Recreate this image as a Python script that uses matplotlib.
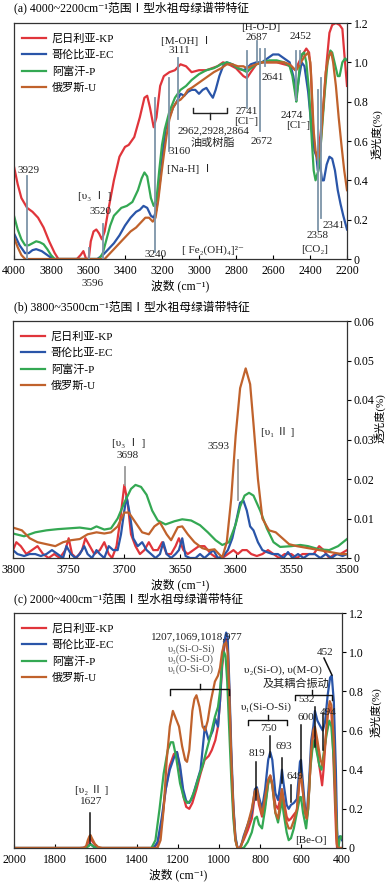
import numpy as np
import matplotlib
matplotlib.use("Agg")
import matplotlib.pyplot as plt
from matplotlib.ticker import FixedLocator, FuncFormatter

plt.rcParams['font.family'] = ['Liberation Serif', 'Noto Sans CJK SC', 'DejaVu Serif']
plt.rcParams['axes.linewidth'] = 0.9

series = ["尼日利亚-KP", "哥伦比亚-EC", "阿富汗-P", "俄罗斯-U"]
colores = ["#e0353b", "#2a55a8", "#34a853", "#c0622c"]

# ---------------- (a) 4000~2200 ----------------
a_kp_x = [4000, 3980, 3960, 3929, 3900, 3870, 3840, 3810, 3780, 3760, 3660, 3640, 3625, 3610, 3596, 3585, 3570,
          3555, 3540, 3525, 3510, 3490, 3460, 3430, 3400, 3380, 3350, 3320, 3295, 3280, 3265, 3245, 3230, 3210,
          3190, 3160, 3130, 3100, 3070, 3040, 3000, 2960, 2930, 2900, 2870, 2840, 2800, 2760, 2741, 2720, 2690,
          2660, 2620, 2580, 2540, 2500, 2480, 2460, 2440, 2420, 2405, 2395, 2385, 2375, 2360, 2345, 2330, 2310,
          2295, 2280, 2260, 2240, 2225, 2215, 2200]
a_kp_y = [0.47, 0.38, 0.31, 0.26, 0.24, 0.21, 0.16, 0.09, 0.03, 0.0, 0.0, 0.02, 0.04, 0.0, 0.0, 0.09, 0.14,
          0.15, 0.13, 0.10, 0.14, 0.25, 0.40, 0.52, 0.57, 0.58, 0.62, 0.72, 0.82, 0.83, 0.77, 0.67, 0.72, 0.88,
          0.93, 0.95, 0.96, 0.99, 0.98, 0.95, 0.96, 0.96, 0.97, 0.98, 1.00, 0.99, 0.97, 0.93, 0.92, 0.95, 0.99,
          1.00, 1.00, 1.00, 0.99, 0.98, 0.96, 1.00, 1.04, 1.07, 1.05, 0.95, 0.70, 0.55, 0.52, 0.62, 0.75, 1.00,
          1.15, 1.19, 1.20, 1.19, 1.17, 1.05, 0.88]
a_ec_x = [4000, 3970, 3940, 3920, 3900, 3880, 3850, 3820, 3790, 3550, 3520, 3490, 3460, 3430, 3400, 3370, 3340,
          3320, 3300, 3280, 3260, 3245, 3230, 3210, 3195, 3180, 3160, 3140, 3120, 3100, 3080, 3060, 3040, 3020,
          3000, 2980, 2960, 2940, 2925, 2910, 2890, 2870, 2850, 2820, 2790, 2760, 2741, 2720, 2690, 2660, 2630,
          2600, 2570, 2540, 2510, 2490, 2474, 2460, 2445, 2430, 2410, 2390, 2375, 2365, 2358, 2348, 2335, 2325,
          2310, 2295, 2280, 2265, 2250, 2235, 2220, 2200]
a_ec_y = [0.13, 0.07, 0.03, 0.03, 0.045, 0.05, 0.04, 0.02, 0.0, 0.0, 0.02, 0.05, 0.08, 0.12, 0.17, 0.21, 0.24,
          0.25, 0.27, 0.26, 0.22, 0.21, 0.25, 0.40, 0.55, 0.66, 0.72, 0.77, 0.80, 0.84, 0.83, 0.85, 0.86, 0.86,
          0.84, 0.86, 0.87, 0.84, 0.82, 0.86, 0.93, 0.98, 1.00, 0.99, 0.97, 0.96, 0.97, 0.99, 1.00, 1.00, 1.02,
          1.04, 1.04, 1.02, 1.00, 0.93, 0.82, 0.92, 1.00, 0.98, 0.85, 0.65, 0.55, 0.52, 0.45, 0.50, 0.40, 0.40,
          0.48, 0.52, 0.51, 0.45, 0.35, 0.28, 0.22, 0.15]
a_p_x = [4000, 3980, 3960, 3940, 3920, 3900, 3880, 3860, 3840, 3820, 3800, 3780, 3540, 3520, 3500, 3480, 3460,
         3440, 3420, 3390, 3360, 3330, 3310, 3295, 3280, 3260, 3245, 3230, 3215, 3200, 3185, 3160, 3130, 3100,
         3070, 3040, 3000, 2960, 2920, 2880, 2850, 2820, 2790, 2760, 2741, 2720, 2690, 2660, 2620, 2580, 2540,
         2510, 2495, 2480, 2474, 2465, 2455, 2445, 2432, 2420, 2405, 2390, 2380, 2370, 2355, 2340, 2320, 2305,
         2290, 2280, 2265, 2250, 2240, 2225, 2210, 2200]
a_p_y = [0.22, 0.15, 0.10, 0.07, 0.07, 0.08, 0.09, 0.085, 0.075, 0.05, 0.02, 0.0, 0.0, 0.03, 0.10, 0.17, 0.22,
         0.24, 0.26, 0.27, 0.29, 0.35, 0.41, 0.44, 0.42, 0.31, 0.27, 0.30, 0.45, 0.58, 0.66, 0.75, 0.82, 0.86,
         0.88, 0.91, 0.94, 0.96, 0.97, 0.99, 1.00, 0.99, 0.97, 0.96, 0.95, 0.97, 0.99, 1.00, 1.01, 1.01, 1.00,
         0.98, 0.93, 0.84, 0.80, 0.88, 0.99, 1.04, 1.05, 1.00, 0.85, 0.60, 0.45, 0.40, 0.45, 0.60, 0.85, 1.00,
         1.06, 1.05, 0.99, 0.93, 0.93, 1.00, 1.02, 1.01]
a_u_x = [4000, 3980, 3960, 3940, 3510, 3490, 3460, 3430, 3400, 3370, 3340, 3310, 3290, 3270, 3250, 3235, 3220,
         3205, 3190, 3175, 3160, 3140, 3120, 3100, 3080, 3060, 3040, 3010, 2980, 2950, 2920, 2880, 2850, 2820,
         2790, 2760, 2741, 2720, 2690, 2660, 2620, 2580, 2540, 2510, 2490, 2474, 2455, 2430, 2410, 2398, 2390,
         2380, 2370, 2358, 2345, 2330, 2315, 2300, 2285, 2275, 2260, 2245, 2230, 2215, 2200]
a_u_y = [0.11, 0.06, 0.02, 0.0, 0.0, 0.02, 0.05, 0.08, 0.11, 0.14, 0.16, 0.19, 0.21, 0.21, 0.19, 0.21, 0.30,
         0.42, 0.53, 0.63, 0.71, 0.77, 0.80, 0.81, 0.83, 0.86, 0.87, 0.89, 0.91, 0.93, 0.95, 0.97, 0.99, 0.99,
         0.98, 0.98, 0.97, 0.98, 0.99, 1.00, 1.00, 1.00, 1.00, 0.99, 0.97, 0.96, 0.99, 1.03, 1.05, 1.00, 0.85,
         0.65, 0.55, 0.50, 0.55, 0.75, 0.95, 1.03, 1.05, 1.00, 0.88, 0.72, 0.58, 0.45, 0.35]

# ---------------- (b) 3800~3500 ----------------
b_kp_x = [3800, 3797, 3793, 3788, 3783, 3778, 3773, 3768, 3763, 3758, 3753, 3750, 3747, 3743, 3738, 3735, 3731,
          3727, 3722, 3718, 3714, 3711, 3707, 3704, 3700, 3697, 3694, 3690, 3686, 3682, 3678, 3674, 3670, 3666,
          3662, 3658, 3654, 3651, 3647, 3643, 3638, 3633, 3628, 3622, 3617, 3612, 3607, 3602, 3598, 3594, 3590,
          3586, 3581, 3576, 3571, 3566, 3561, 3556, 3550, 3545, 3540, 3535, 3530, 3525, 3521, 3516, 3511, 3506, 3500]
b_kp_y = [0.002, 0.004, 0.003, 0.001, 0.002, 0.003, 0.001, 0.000, 0.001, 0.000, 0.002, 0.005, 0.001, 0.000, 0.002,
          0.005, 0.003, 0.001, 0.002, 0.004, 0.001, 0.000, 0.003, 0.009, 0.0185, 0.014, 0.006, 0.003, 0.001, 0.002,
          0.004, 0.002, 0.002, 0.004, 0.001, 0.001, 0.003, 0.005, 0.002, 0.001, 0.002, 0.003, 0.003, 0.001, 0.000,
          0.000, 0.001, 0.002, 0.001, 0.002, 0.002, 0.001, 0.0005, 0.001, 0.002, 0.001, 0.000, 0.001, 0.001, 0.000,
          0.001, 0.001, 0.001, 0.003, 0.002, 0.000, 0.001, 0.001, 0.002]
b_ec_x = [3800, 3796, 3790, 3785, 3780, 3775, 3770, 3765, 3760, 3755, 3752, 3748, 3744, 3740, 3736, 3733, 3729,
          3725, 3722, 3718, 3714, 3710, 3706, 3703, 3700, 3698, 3695, 3692, 3688, 3684, 3680, 3676, 3672, 3668,
          3665, 3662, 3658, 3654, 3651, 3648, 3645, 3641, 3636, 3632, 3628, 3624, 3620, 3616, 3611, 3607, 3603,
          3599, 3596, 3593, 3590, 3587, 3584, 3580, 3576, 3572, 3567, 3562, 3557, 3553, 3549, 3544, 3539, 3534,
          3529, 3524, 3519, 3514, 3509, 3504, 3500]
b_ec_y = [0.002, 0.001, 0.0005, 0.001, 0.001, 0.0005, 0.001, 0.002, 0.001, 0.000, 0.003, 0.001, 0.000, 0.001,
          0.003, 0.001, 0.000, 0.002, 0.001, 0.000, 0.003, 0.002, 0.002, 0.006, 0.012, 0.0155, 0.011, 0.005, 0.003,
          0.004, 0.002, 0.001, 0.000, 0.001, 0.004, 0.001, 0.000, 0.001, 0.002, 0.005, 0.0005, 0.000, 0.000, 0.001,
          0.000, 0.001, 0.002, 0.000, 0.0005, 0.002, 0.005, 0.010, 0.014, 0.0145, 0.012, 0.008, 0.007, 0.004, 0.002,
          0.0015, 0.001, 0.001, 0.000, 0.0015, 0.000, 0.001, 0.000, 0.001, 0.001, 0.000, 0.001, 0.000, 0.001,
          0.0005, 0.001]
b_p_x = [3800, 3790, 3780, 3770, 3760, 3750, 3740, 3730, 3725, 3718, 3712, 3706, 3700, 3694, 3690, 3685, 3680,
         3675, 3670, 3663, 3655, 3648, 3640, 3632, 3625, 3618, 3612, 3606, 3600, 3596, 3592, 3588, 3584, 3578,
         3572, 3566, 3560, 3550, 3542, 3535, 3525, 3516, 3508, 3500]
b_p_y = [0.0062, 0.0055, 0.0065, 0.007, 0.0073, 0.0075, 0.0077, 0.0073, 0.008, 0.0072, 0.0075, 0.010, 0.014,
         0.0175, 0.0185, 0.018, 0.016, 0.012, 0.0095, 0.0085, 0.0093, 0.0098, 0.0095, 0.0083, 0.0065, 0.0045,
         0.0033, 0.004, 0.0085, 0.013, 0.0158, 0.0165, 0.0158, 0.012, 0.0075, 0.004, 0.0028, 0.003, 0.0033, 0.003,
         0.0022, 0.002, 0.003, 0.0048]
b_u_x = [3800, 3792, 3785, 3778, 3770, 3762, 3755, 3748, 3740, 3733, 3725, 3718, 3712, 3706, 3700, 3696, 3690,
         3684, 3678, 3673, 3668, 3662, 3658, 3652, 3648, 3643, 3637, 3630, 3624, 3619, 3615, 3612, 3608, 3604,
         3600, 3596, 3591, 3587, 3584, 3580, 3576, 3570, 3564, 3558, 3552, 3545, 3535, 3525, 3515, 3505, 3500]
b_u_y = [0.0077, 0.007, 0.005, 0.004, 0.0035, 0.003, 0.004, 0.0045, 0.0048, 0.006, 0.0065, 0.0062, 0.0065, 0.008,
         0.0115, 0.0115, 0.009, 0.0065, 0.006, 0.008, 0.009, 0.006, 0.0045, 0.0078, 0.008, 0.006, 0.004, 0.0025,
         0.002, 0.0022, 0.001, 0.0002, 0.004, 0.015, 0.031, 0.043, 0.048, 0.044, 0.034, 0.020, 0.010, 0.007,
         0.0065, 0.005, 0.0035, 0.003, 0.0025, 0.002, 0.0015, 0.001, 0.001]

# ---------------- (c) 2000~400 ----------------
c_kp_x = [2000, 1680, 1660, 1645, 1635, 1627, 1615, 1600, 1580, 1320, 1300, 1280, 1260, 1240, 1220, 1205, 1190,
          1175, 1160, 1145, 1130, 1110, 1090, 1070, 1050, 1035, 1018, 1005, 995, 985, 975, 965, 958, 950, 940,
          930, 920, 910, 900, 880, 860, 840, 825, 815, 805, 790, 775, 760, 750, 740, 725, 712, 700, 693, 685,
          670, 660, 649, 635, 620, 605, 600, 592, 580, 572, 565, 555, 545, 535, 525, 515, 505, 497, 490, 480,
          470, 460, 452, 445, 435, 428, 424, 400]
c_kp_y = [0, 0, 0.002, 0.01, 0.04, 0.05, 0.03, 0.01, 0.0, 0, 0.02, 0.12, 0.30, 0.42, 0.48, 0.49, 0.40,
          0.27, 0.21, 0.20, 0.23, 0.30, 0.38, 0.45, 0.47, 0.50, 0.55, 0.62, 0.75, 0.92, 1.02, 1.07, 1.05, 0.80, 0.45,
          0.20, 0.05, 0.0, 0.0, 0.04, 0.09, 0.15, 0.27, 0.29, 0.22, 0.16, 0.22, 0.33, 0.37, 0.33, 0.22, 0.20, 0.26,
          0.30, 0.25, 0.16, 0.14, 0.15, 0.17, 0.19, 0.37, 0.38, 0.30, 0.18, 0.15, 0.20, 0.40, 0.55, 0.60, 0.55,
          0.45, 0.38, 0.32, 0.40, 0.55, 0.68, 0.72, 0.70, 0.55, 0.25, 0.05, 0.0, 0.0]
c_ec_x = [2000, 1660, 1640, 1627, 1610, 1590, 1320, 1300, 1280, 1260, 1240, 1220, 1205, 1190, 1175, 1160, 1145,
          1130, 1110, 1090, 1069, 1050, 1030, 1018, 1005, 995, 985, 975, 965, 958, 950, 940, 930, 920, 910, 895,
          880, 860, 840, 825, 815, 805, 790, 775, 760, 750, 740, 725, 712, 700, 693, 685, 670, 660, 649, 635, 620,
          605, 600, 592, 580, 571, 560, 550, 540, 532, 520, 505, 494, 483, 470, 458, 450, 440, 430, 424, 420, 415,
          410, 405, 400]
c_ec_y = [0, 0, 0.01, 0.02, 0.005, 0, 0, 0.03, 0.15, 0.30, 0.40, 0.46, 0.49, 0.42, 0.30, 0.24, 0.23,
          0.26, 0.33, 0.40, 0.62, 0.55, 0.60, 0.66, 0.62, 0.75, 0.95, 1.05, 1.10, 1.08, 0.85, 0.50, 0.22, 0.06, 0,
          0, 0.06, 0.12, 0.18, 0.30, 0.31, 0.26, 0.20, 0.30, 0.45, 0.49, 0.45, 0.28, 0.245, 0.33, 0.40, 0.33, 0.22,
          0.20, 0.22, 0.23, 0.25, 0.44, 0.45, 0.35, 0.20, 0.18, 0.35, 0.55, 0.62, 0.70, 0.65, 0.62, 0.60, 0.64,
          0.78, 0.87, 0.88, 0.75, 0.40, 0.10, 0.0, 0.05, 0.06, 0.05, 0.04]
c_p_x = [2000, 1650, 1635, 1627, 1615, 1600, 1330, 1310, 1290, 1270, 1250, 1235, 1224, 1210, 1190, 1170, 1155,
         1140, 1120, 1100, 1080, 1060, 1040, 1020, 1005, 995, 985, 975, 968, 960, 950, 940, 930, 920, 910, 880,
         860, 840, 825, 815, 805, 790, 775, 760, 750, 740, 725, 712, 700, 693, 685, 670, 660, 649, 635, 620, 605,
         600, 590, 575, 565, 555, 545, 535, 525, 510, 500, 490, 475, 462, 452, 440, 430, 422, 418, 412, 405, 400]
c_p_y = [0, 0, 0.01, 0.02, 0.01, 0, 0, 0.04, 0.20, 0.38, 0.50, 0.54, 0.54, 0.47, 0.33, 0.25, 0.23,
         0.24, 0.29, 0.36, 0.42, 0.50, 0.58, 0.67, 0.72, 0.80, 0.95, 1.00, 0.98, 0.85, 0.60, 0.35, 0.15, 0.04, 0.0,
         0.0, 0.03, 0.08, 0.15, 0.16, 0.12, 0.10, 0.20, 0.33, 0.36, 0.32, 0.18, 0.13, 0.20, 0.25, 0.18, 0.08,
         0.04, 0.05, 0.10, 0.18, 0.26, 0.26, 0.18, 0.10, 0.20, 0.40, 0.50, 0.55, 0.50, 0.42, 0.40, 0.48, 0.58,
         0.65, 0.62, 0.45, 0.20, 0.03, 0.0, 0.04, 0.06, 0.05]
c_u_x = [2000, 1660, 1648, 1640, 1632, 1627, 1620, 1605, 1590, 1570, 1320, 1300, 1285, 1270, 1255, 1240, 1225,
         1210, 1195, 1180, 1165, 1156, 1145, 1130, 1120, 1110, 1095, 1080, 1068, 1055, 1040, 1020, 1005, 995, 985,
         975, 965, 958, 950, 940, 930, 920, 910, 895, 880, 860, 840, 825, 815, 805, 790, 775, 760, 750, 740, 725,
         712, 700, 693, 685, 670, 660, 649, 635, 620, 605, 600, 590, 580, 572, 560, 550, 540, 532, 520, 505, 494,
         485, 470, 460, 452, 440, 430, 425, 420, 400]
c_u_y = [0, 0, 0.01, 0.04, 0.06, 0.066, 0.05, 0.02, 0.005, 0, 0, 0.0, 0.04, 0.20, 0.45, 0.62, 0.70,
         0.66, 0.62, 0.52, 0.45, 0.44, 0.50, 0.70, 0.76, 0.78, 0.72, 0.62, 0.60, 0.65, 0.75, 0.85, 0.88, 0.92, 1.00,
         1.04, 1.05, 1.00, 0.80, 0.45, 0.20, 0.04, 0.0, 0.0, 0.05, 0.12, 0.20, 0.29, 0.30, 0.24, 0.17, 0.26, 0.35,
         0.37, 0.32, 0.18, 0.15, 0.24, 0.30, 0.24, 0.13, 0.10, 0.10, 0.14, 0.20, 0.37, 0.38, 0.28, 0.18, 0.15,
         0.30, 0.50, 0.60, 0.62, 0.55, 0.45, 0.42, 0.50, 0.68, 0.75, 0.73, 0.55, 0.20, 0.02, 0.0, 0.0]

datos = {
    "a": [(a_kp_x, a_kp_y), (a_ec_x, a_ec_y), (a_p_x, a_p_y), (a_u_x, a_u_y)],
    "b": [(b_kp_x, b_kp_y), (b_ec_x, b_ec_y), (b_p_x, b_p_y), (b_u_x, b_u_y)],
    "c": [(c_kp_x, c_kp_y), (c_ec_x, c_ec_y), (c_p_x, c_p_y), (c_u_x, c_u_y)],
}

W, H = 387, 884
fig = plt.figure(figsize=(W / 100, H / 100), dpi=100)


def caja(l, t, r, b):
    return [l / W, 1 - b / H, (r - l) / W, (b - t) / H]


def fmt(v, pos):
    if abs(v) < 1e-9:
        return "0"
    if v >= 0.1:
        return "%.1f" % v
    return "%.2f" % v


def preparar(ax, xlim, xt, ylim, yt, ylab_pos):
    ax.set_xlim(*xlim)
    ax.set_ylim(*ylim)
    ax.xaxis.set_major_locator(FixedLocator(xt))
    ax.yaxis.set_major_locator(FixedLocator(yt))
    ax.yaxis.set_major_formatter(FuncFormatter(fmt))
    ax.yaxis.tick_right()
    ax.yaxis.set_label_position("right")
    ax.tick_params(axis="x", direction="in", length=3, labelsize=8.5, pad=4.5)
    ax.tick_params(axis="y", direction="out", length=3, labelsize=8.5, pad=2)
    ax.set_xlabel("波数 (cm⁻¹)", fontsize=8.5, labelpad=2)
    ax.set_ylabel("透光度(%)", fontsize=8, rotation=90)
    ax.yaxis.set_label_coords(*ylab_pos)
    for s in ax.spines.values():
        s.set_color("#333333")


def curvas(ax, clave):
    for (x, y), nombre, c in zip(datos[clave], series, colores):
        ax.plot(x, y, color=c, lw=1.6, label=nombre, solid_joinstyle="round")
    ax.legend(loc="upper left", frameon=False, fontsize=8, handlelength=2.2, handletextpad=0.5,
              labelspacing=0.55, borderaxespad=0.3, bbox_to_anchor=(0.0, 0.99))


def linea(ax, x, y0, y1, c, lw=1.3):
    ax.plot([x, x], [y0, y1], color=c, lw=lw, zorder=5)


def texto(ax, x, y, s, size=8, ha="center", color="#222222"):
    ax.text(x, y, s, fontsize=size, ha=ha, va="center", color=color, zorder=6, clip_on=False)


# ===== panel a =====
fig.text(14 / W, 1 - 9 / H, "(a) 4000~2200cm⁻¹范围Ⅰ型水祖母绿谱带特征", fontsize=8.5, va="center")
axa = fig.add_axes(caja(14, 23, 347, 259))
preparar(axa, (4000, 2200), list(range(4000, 2199, -200)), (0, 1.2), [0, 0.2, 0.4, 0.6, 0.8, 1.0, 1.2],
         (1.07, 0.53))
curvas(axa, "a")
gris_a = "#7d94a8"
lineas_a = [(3929, 0.0, 0.42), (3596, 0.0, 0.056), (3520, 0.0, 0.18), (3240, 0.035, 0.82),
            (3160, 0.55, 0.92), (3111, 0.71, 1.02), (2741, 0.77, 1.06), (2687, 1.0, 1.11),
            (2672, 0.65, 1.07), (2641, 0.98, 1.07), (2474, 0.81, 1.06), (2452, 0.99, 1.06),
            (2358, 0.15, 0.86), (2341, 0.21, 0.92)]
for x, y0, y1 in lineas_a:
    linea(axa, x, y0, y1, gris_a)
textos_a = [(3070, 1.11, "[M-OH] Ⅰ"), (3105, 1.06, "3111"), (2665, 1.175, "[H-O-D]"),
            (2687, 1.125, "2687"), (2449, 1.13, "2452"), (2600, 0.925, "2641"), (2740, 0.75, "2741"),
            (2745, 0.70, "[Cl⁻]"), (2660, 0.595, "2672"), (2497, 0.73, "2474"), (2465, 0.68, "[Cl⁻]"),
            (2919, 0.65, "2962,2928,2864"), (2924, 0.59, "油或树脂"), (3103, 0.545, "3160"),
            (3049, 0.46, "[Na-H] Ⅰ"), (3919, 0.45, "3929"), (3562, 0.32, "[υ₃ Ⅰ ]"), (3530, 0.24, "3520"),
            (3233, 0.025, "3240"), (3578, -0.125, "3596"), (2924, 0.046, "[ Fe₂(OH)₄]²⁻"),
            (2357, 0.12, "2358"), (2270, 0.17, "2341"), (2373, 0.046, "[CO₂]")]
for x, y, s in textos_a:
    texto(axa, x, y, s)
# llave de "油或树脂"
axa.plot([3033, 3033, 2849, 2849], [0.77, 0.74, 0.74, 0.77], color="#222222", lw=1.0)
axa.plot([2940, 2940], [0.74, 0.71], color="#222222", lw=1.0)

# ===== panel b =====
fig.text(14 / W, 1 - 308 / H, "(b) 3800~3500cm⁻¹范围Ⅰ型水祖母绿谱带特征", fontsize=8.5, va="center")
axb = fig.add_axes(caja(13, 321, 347, 558))
preparar(axb, (3800, 3500), list(range(3800, 3499, -50)), (0, 0.06),
         [0, 0.01, 0.02, 0.03, 0.04, 0.05, 0.06], (1.08, 0.59))
curvas(axb, "b")
gris_b = "#9a9a9a"
linea(axb, 3699, 0.0185, 0.023, gris_b)
linea(axb, 3598, 0.0147, 0.0248, gris_b)
texto(axb, 3696, 0.0291, "[υ₃ Ⅰ ]")
texto(axb, 3697, 0.026, "3698")
texto(axb, 3615, 0.0283, "3593")
texto(axb, 3562, 0.0319, "[υ₁ Ⅱ ]")

# ===== panel c =====
fig.text(14 / W, 1 - 600 / H, "(c) 2000~400cm⁻¹范围Ⅰ型水祖母绿谱带特征", fontsize=8.5, va="center")
axc = fig.add_axes(caja(14, 613, 342, 848))
preparar(axc, (2000, 400), list(range(2000, 399, -200)), (0, 1.2), [0, 0.2, 0.4, 0.6, 0.8, 1.0, 1.2],
         (1.085, 0.58))
curvas(axc, "c")
negro = "#111111"
lineas_c = [(1627, 0.026, 0.179), (819, 0.245, 0.44), (750, 0.465, 0.572), (693, 0.33, 0.46),
            (649, 0.235, 0.32), (600, 0.388, 0.628), (532, 0.516, 0.72), (494, 0.5, 0.69)]
for x, y0, y1 in lineas_c:
    linea(axc, x, y0, y1, negro, lw=1.1)
axc.plot([488, 449], [0.97, 0.883], color=negro, lw=1.1)
textos_c = [(1107, 1.077, "1207,1069,1018,977"), (688, 0.909, "υ₂(Si-O), υ(M-O)"),
            (624, 0.842, "及其耦合振动"), (483, 1.0, "452"), (571, 0.756, "532"), (468, 0.69, "494"),
            (771, 0.72, "υ₁(Si-O-Si)"), (756, 0.608, "750"), (575, 0.664, "600"), (815, 0.485, "819"),
            (683, 0.52, "693"), (629, 0.363, "649"), (551, 0.04, "[Be-O]"), (1619, 0.296, "[υ₂ Ⅱ ]"),
            (1624, 0.235, "1627")]
for x, y, s in textos_c:
    texto(axc, x, y, s)
for i, s in enumerate(["υ₃(Si-O-Si)", "υ₃(O-Si-O)", "υ₁(O-Si-O)"]):
    texto(axc, 1249, 1.016 - 0.051 * i, s, size=7.5, ha="left", color="#555555")
# llaves
axc.plot([1239, 1239, 951, 951], [0.78, 0.81, 0.81, 0.78], color=negro, lw=1.0)
axc.plot([1093, 1093], [0.81, 0.84], color=negro, lw=1.0)
axc.plot([629, 629, 449, 449], [0.756, 0.781, 0.781, 0.756], color=negro, lw=1.0)
axc.plot([546, 546], [0.781, 0.807], color=negro, lw=1.0)
axc.plot([858, 858, 668, 668], [0.628, 0.654, 0.654, 0.628], color=negro, lw=1.0)
axc.plot([761, 761], [0.654, 0.68], color=negro, lw=1.0)

fig.savefig("out.png", dpi=100)
